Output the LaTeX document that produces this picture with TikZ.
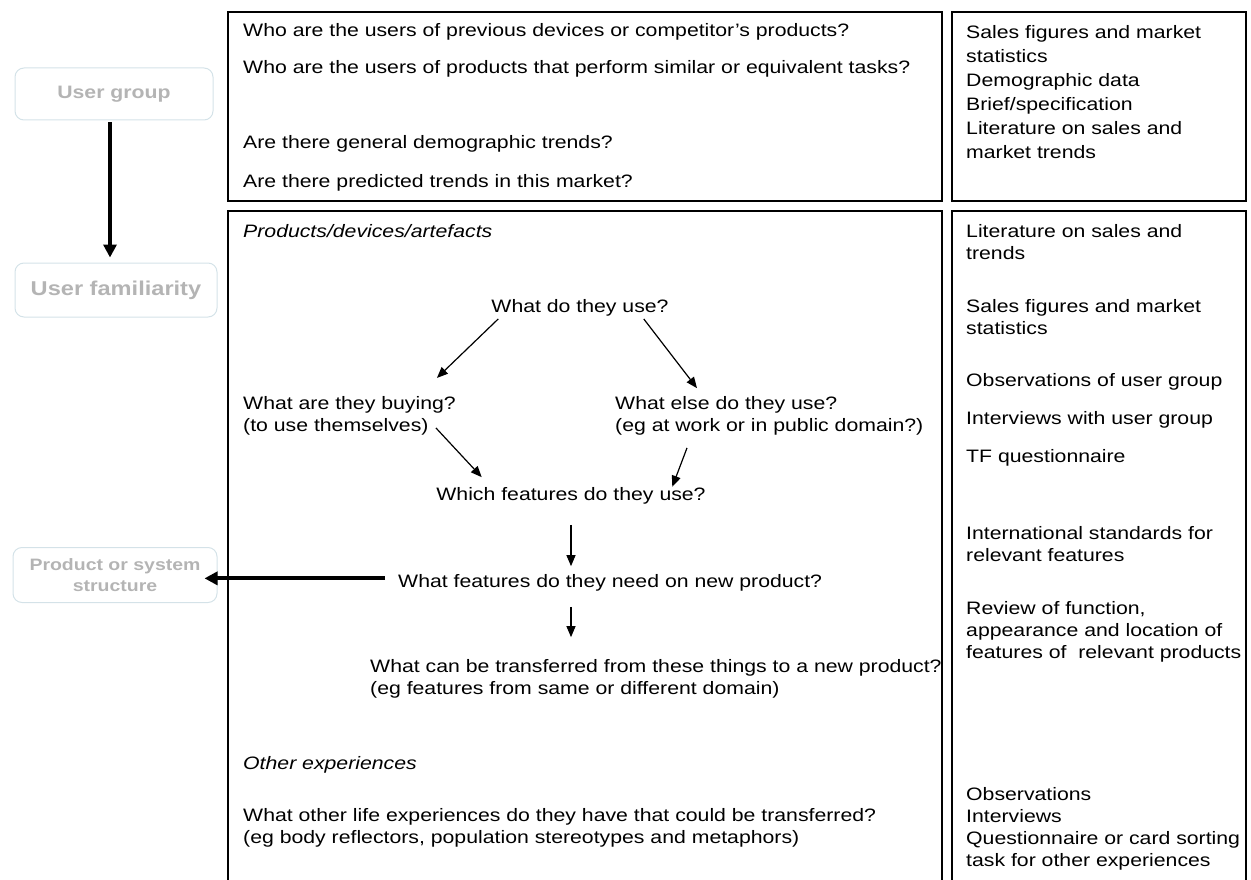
\documentclass[tikz,border=0pt]{standalone}
\usepackage{fontspec}
\setmainfont{Liberation Sans}[FakeStretch=1.18]
\usetikzlibrary{arrows.meta,positioning}
\definecolor{faintline}{RGB}{212,226,232}
\definecolor{fainttext}{RGB}{180,180,180}
\newcommand{\bodysize}{\fontsize{18}{22}\selectfont}

\begin{document}
\begin{tikzpicture}[x=1pt,y=-1pt,
    txt/.style={inner sep=0pt,anchor=base west,align=left,font=\bodysize},
    ctxt/.style={inner sep=0pt,anchor=base,font=\bodysize},
    faintbox/.style={draw=faintline,line width=1pt,rounded corners=9pt,text=fainttext,align=center,inner sep=0pt},
    frame/.style={draw,line width=1.2pt},
    arr/.style={line width=1.2pt,-{Triangle[length=11pt,width=9pt]}},
    bigarr/.style={line width=3.8pt,-{Triangle[length=13pt,width=13pt]}}]
    \useasboundingbox (0,0) rectangle (1251,880);
    \clip (0,0) rectangle (1251,880);

    %Frames
    \draw[frame] (228,12) rectangle (942,201);
    \draw[frame] (952,12) rectangle (1246,201);
    \draw[frame] (228,211) rectangle (942,900);
    \draw[frame] (952,211) rectangle (1246,900);

    %Left boxes (multi-line nodes sit on their last baseline)
    \node[faintbox,minimum width=198pt,minimum height=52pt,font=\bfseries\fontsize{18}{20}\selectfont] at (114,94) (group) {User group};
    \node[faintbox,minimum width=202pt,minimum height=54pt,font=\bfseries\fontsize{20}{22}\selectfont] at (116,290) (famil) {User familiarity};
    \node[faintbox,minimum width=204pt,minimum height=55pt,font=\bfseries\fontsize{16.5}{21}\selectfont] at (115,575) (prodsys) {Product or system\\structure};

    %Top questions
    \node[txt] at (243,37) (q1) {Who are the users of previous devices or competitor’s products?};
    \node[txt] at (243,74) (q2) {Who are the users of products that perform similar or equivalent tasks?};
    \node[txt] at (243,149) (q3) {Are there general demographic trends?};
    \node[txt] at (243,187) (q4) {Are there predicted trends in this market?};
    \node[txt,font=\fontsize{18}{24}\selectfont] at (966,159) (srcA) {Sales figures and market\\statistics\\Demographic data\\Brief/specification\\Literature on sales and\\market trends};

    %Familiarity questions
    \node[txt,font=\bodysize\itshape] at (243,237) (prod) {Products/devices/artefacts};
    \node[ctxt] at (580,312) (use) {What do they use?};
    \node[txt] at (243,431) (buy) {What are they buying?\\(to use themselves)};
    \node[txt] at (615,431) (else) {What else do they use?\\(eg at work or in public domain?)};
    \node[ctxt] at (571,500) (which) {Which features do they use?};
    \node[txt] at (398,587) (need) {What features do they need on new product?};
    \node[txt] at (370,694) (transfer) {What can be transferred from these things to a new product?\\(eg features from same or different domain)};
    \node[txt,font=\bodysize\itshape] at (243,769) (other) {Other experiences};
    \node[txt] at (243,843) (life) {What other life experiences do they have that could be transferred?\\(eg body reflectors, population stereotypes and metaphors)};

    %Sources
    \node[txt] at (966,259) (srcB) {Literature on sales and\\trends};
    \node[txt] at (966,334) (srcC) {Sales figures and market\\statistics};
    \node[txt] at (966,386) (srcD) {Observations of user group};
    \node[txt] at (966,424) (srcE) {Interviews with user group};
    \node[txt] at (966,462) (srcF) {TF questionnaire};
    \node[txt] at (966,561) (srcG) {International standards for\\relevant features};
    \node[txt] at (966,658) (srcH) {Review of function,\\appearance and location of\\features of\ \ relevant products};
    \node[txt] at (966,866) (srcI) {Observations\\Interviews\\Questionnaire or card sorting\\task for other experiences};

    %Arrows
    \draw[arr] ([shift={(7,3)}]use.south west) -- ([shift={(-19,-17.8)}]buy.north east);
    \draw[arr] ([shift={(-25,3)}]use.south east) -- ([shift={(82,-7.6)}]else.north west);
    \draw[arr] ([shift={(-20,-7)}]buy.south east) -- ([shift={(45.5,-9.6)}]which.north west);
    \draw[arr] ([shift={(72,13)}]else.south west) -- ([shift={(-33.5,0)}]which.north east);
    \draw[arr] ([shift={(0,21)}]which.south) -- ([shift={(173,-7.6)}]need.north west);
    \draw[arr] ([shift={(173,16)}]need.south west) -- ([shift={(201,-21.6)}]transfer.north west);
    \draw[bigarr] ([shift={(-13,-4)}]need.west) -- ([shift={(-13,-4)}]need.west -| prodsys.east);
    \draw[bigarr] ([shift={(-4,2)}]group.south) -- ([shift={(-4,-5)}]group.south |- famil.north);
\end{tikzpicture}
\end{document}
